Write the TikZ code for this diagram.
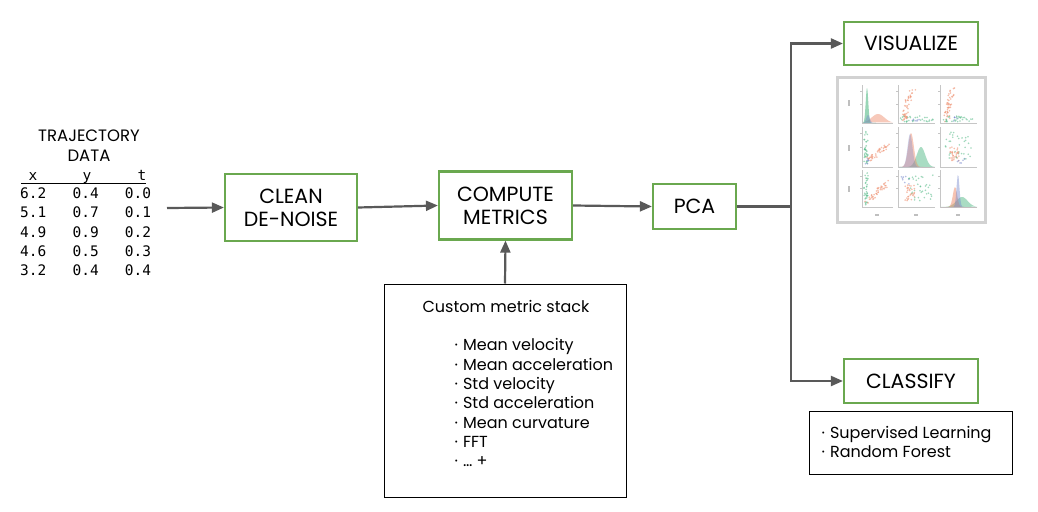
\documentclass[tikz,border=0pt]{standalone}
\usepackage{fontspec}
\setmainfont{Poppins}
\setmonofont{DejaVu Sans Mono}
\usetikzlibrary{arrows.meta}
\definecolor{boxgreen}{HTML}{6AA84F}
\definecolor{arrowgray}{HTML}{595959}
\definecolor{sorange}{HTML}{EE8866}
\definecolor{sgreen}{HTML}{55BB88}
\definecolor{sblue}{HTML}{7788CC}
\tikzset{
  stagebox/.style={draw=boxgreen, line width=2.2pt, fill=white, align=center, inner sep=0pt,
    font=\fontsize{20.5}{23}\selectfont},
  notebox/.style={draw=black, line width=1pt, fill=white, inner sep=0pt},
  conn/.style={draw=arrowgray, line width=2.2pt},
  arr/.style={conn, -{Triangle[length=12pt,width=10pt]}},
  smalltxt/.style={font=\fontsize{16}{19.3}\selectfont, inner sep=0pt, align=left},
  monotxt/.style={font=\ttfamily\fontsize{14.5}{17}\selectfont, inner sep=0pt},
  axisln/.style={draw=gray!45, line width=0.5pt},
}
\newcommand{\bul}{·\hspace{5pt}}
\newcommand{\scatpts}[4]{%
  \foreach \i in {1,...,#1}{%
    \pgfmathsetmacro{\tt}{rnd}%
    \pgfmathsetmacro{\px}{#3}%
    \pgfmathsetmacro{\py}{#4}%
    \fill[#2, opacity=.55] (\px,\py) circle (0.9pt);}}
\begin{document}
\begin{tikzpicture}[x=1pt,y=-1pt]
\useasboundingbox (0,0) rectangle (1038,511);
\fill[white] (0,0) rectangle (1038,511);

% ---- trajectory data ----
\node[align=center, inner sep=0pt, font=\fontsize{16.5}{20}\selectfont] (title) at (89,146) {TRAJECTORY\\DATA};
\node[monotxt, anchor=base] (hx) at (33,180) {x};
\node[monotxt, anchor=base] (hy) at (87,180) {y};
\node[monotxt, anchor=base] (ht) at (142,180) {t};
\coordinate (ul1) at (21,183.5);
\coordinate (ul2) at (146,183.5);
\draw[line width=1.1pt] (ul1) -- (ul2);
\node[monotxt, anchor=base west] (r1) at (20,198.5) {6.2\ \ \ 0.4\ \ \ 0.0};
\node[monotxt, anchor=base west] (r2) at (20,217.7) {5.1\ \ \ 0.7\ \ \ 0.1};
\node[monotxt, anchor=base west] (r3) at (20,237) {4.9\ \ \ 0.9\ \ \ 0.2};
\node[monotxt, anchor=base west] (r4) at (20,256.2) {4.6\ \ \ 0.5\ \ \ 0.3};
\node[monotxt, anchor=base west] (r5) at (20,275.5) {3.2\ \ \ 0.4\ \ \ 0.4};

% ---- stage boxes ----
\node[stagebox, minimum width=132pt, minimum height=67pt] (clean) at (291,207.5) {CLEAN\\DE-NOISE};
\node[stagebox, minimum width=133pt, minimum height=68pt] (compute) at (505.5,205.5) {COMPUTE\\METRICS};
\node[stagebox, minimum width=83pt, minimum height=45pt] (pca) at (694.5,206.5) {PCA};
\node[stagebox, minimum width=134pt, minimum height=43pt] (vis) at (911,43.5) {VISUALIZE};
\node[stagebox, minimum width=134pt, minimum height=44pt] (cls) at (911,381) {CLASSIFY};

% ---- note boxes ----
\node[notebox, minimum width=242pt, minimum height=213pt] (stack) at (505,390.5) {};
\node[smalltxt, anchor=center] (stacktitle) at (506,306) {Custom metric stack};
\node[smalltxt, anchor=north west] (stacklist) at (454.5,338.5) {%
\bul Mean velocity\\
\bul Mean acceleration\\
\bul Std velocity\\
\bul Std acceleration\\
\bul Mean curvature\\
\bul FFT\\
\bul \ldots\ +};
\node[notebox, minimum width=203pt, minimum height=63pt] (learn) at (910.5,442.5) {};
\node[smalltxt, anchor=north west] (learnlist) at (821.5,426) {%
\bul Supervised Learning\\
\bul Random Forest};

% ---- connectors ----
\coordinate (din) at (167,208);
\coordinate (br) at (791,206.5);
\draw[arr] (din) -- (clean.west);
\draw[arr] (clean.east) -- (compute.west);
\draw[arr] (compute.east) -- (pca.west);
\draw[arr] (stack.north) -- (compute.south);
\draw[conn] (pca.east) -- (br);
\draw[arr] (br) |- (vis.west);
\draw[arr] (br) |- (cls.west);

% ---- pair plot thumbnail ----
\draw[draw=gray!35, fill=white, line width=3pt] (837,77) rectangle (985,222);
\foreach \xa/\xb in {862/893,898/935,940/977}{
  \foreach \ya/\yb in {85/123,127/167,170/207}{
    \draw[axisln] (\xa,\ya) -- (\xa,\yb) -- (\xb,\yb);
    \draw[axisln] (\xa-2,\ya+6) -- (\xa,\ya+6);
    \draw[axisln] (\xa-2,{(\ya+\yb)/2}) -- (\xa,{(\ya+\yb)/2});
  }}
\fill[gray!50] (848,100) rectangle (850,106);
\fill[gray!50] (848,145) rectangle (850,151);
\fill[gray!50] (848,186) rectangle (850,192);
\fill[gray!50] (875,214) rectangle (879,216);
\fill[gray!50] (914,214) rectangle (918,216);
\fill[gray!50] (956,214) rectangle (960,216);
% densities
\fill[sorange, opacity=.45] plot[domain=863:893, samples=40] (\x,{123-9*exp(-((\x-878)/9)^2)}) -- cycle;
\fill[sgreen, opacity=.6] plot[domain=863:876, samples=40] (\x,{123-35*exp(-((\x-867)/1.8)^2)}) -- cycle;
\fill[sblue, opacity=.4] plot[domain=863:876, samples=30] (\x,{123-8*exp(-((\x-868)/2.5)^2)}) -- cycle;
\fill[sgreen, opacity=.5] plot[domain=899:935, samples=40] (\x,{167-20*exp(-((\x-921)/6)^2)}) -- cycle;
\fill[sorange, opacity=.45] plot[domain=899:930, samples=40] (\x,{167-34*exp(-((\x-911)/4)^2)}) -- cycle;
\fill[sblue, opacity=.35] plot[domain=899:930, samples=40] (\x,{167-33*exp(-((\x-910)/3.5)^2)}) -- cycle;
\fill[sgreen, opacity=.5] plot[domain=941:977, samples=40] (\x,{207-10*exp(-((\x-962)/8)^2)}) -- cycle;
\fill[sorange, opacity=.5] plot[domain=941:977, samples=40] (\x,{207-20*exp(-((\x-955)/3)^2)}) -- cycle;
\fill[sblue, opacity=.45] plot[domain=941:977, samples=40] (\x,{207-33*exp(-((\x-958)/2)^2)}) -- cycle;
% scatters
\pgfmathsetseed{7}
\scatpts{45}{sorange}{905+8*\tt^2+3*rand}{121-32*\tt+rand}
\scatpts{30}{sgreen}{900+34*rnd}{119+3*rand}
\scatpts{6}{sblue}{912+8*rnd}{119+2*rand}
\scatpts{45}{sorange}{947+7*\tt^2+3*rand}{121-34*\tt+rand}
\scatpts{30}{sgreen}{943+32*rnd}{119+3*rand}
\scatpts{5}{sblue}{952+6*rnd}{119+2*rand}
\scatpts{35}{sgreen}{866+2*rand}{147+17*rand}
\scatpts{40}{sorange}{867+22*\tt+2*rand}{160-16*\tt+3*rand}
\scatpts{6}{sblue}{867+2*rand}{160+4*rand}
\scatpts{35}{sgreen}{958+13*rand}{146+14*rand}
\scatpts{30}{sorange}{955+5*rand}{155+8*rand}
\scatpts{6}{sblue}{961+4*rand}{161+3*rand}
\scatpts{35}{sgreen}{866+2*rand}{189+16*rand}
\scatpts{40}{sorange}{867+22*\tt+2*rand}{201-20*\tt+3*rand}
\scatpts{8}{sblue}{905+4*rand}{180+4*rand}
\scatpts{35}{sgreen}{921+12*rand}{189+14*rand}
\scatpts{30}{sorange}{910+5*rand}{193+8*rand}
\end{tikzpicture}
\end{document}
